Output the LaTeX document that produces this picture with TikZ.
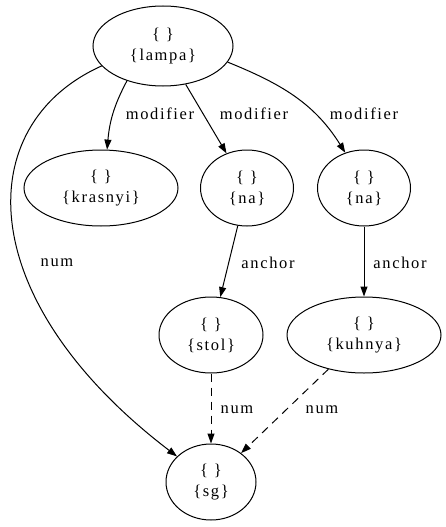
\documentclass[tikz,border=0pt]{standalone}
\usepackage{fontspec}
\setmainfont{Liberation Serif}[LetterSpace=10]
\usetikzlibrary{shapes.geometric,arrows.meta}
\begin{document}
\begin{tikzpicture}[x=1pt,y=-1pt,
  tok/.style={ellipse,draw,line width=1pt,inner sep=0pt,align=center,
    font=\fontsize{16.5}{21}\selectfont},
  lbl/.style={font=\fontsize{16.5}{19}\selectfont,inner sep=0pt},
  edge/.style={line width=1pt,-{Triangle[length=10pt,width=7pt]}},
  dedge/.style={edge,dash pattern=on 8pt off 6pt}]
\useasboundingbox (0,0) rectangle (445,527);
\node[tok,minimum width=140pt,minimum height=80pt] (lampa) at (163,46) {\{ \}\\\{lampa\}};
\node[tok,minimum width=154pt,minimum height=76pt] (krasnyi) at (101,188) {\{ \}\\\{krasnyi\}};
\node[tok,minimum width=93pt,minimum height=76pt] (na1) at (247,188) {\{ \}\\\{na\}};
\node[tok,minimum width=93pt,minimum height=76pt] (na2) at (364,188) {\{ \}\\\{na\}};
\node[tok,minimum width=104pt,minimum height=76pt] (stol) at (211,335) {\{ \}\\\{stol\}};
\node[tok,minimum width=154pt,minimum height=76pt] (kuhnya) at (364,335) {\{ \}\\\{kuhnya\}};
\node[tok,minimum width=90pt,minimum height=76pt] (sg) at (211,482) {\{ \}\\\{sg\}};

\draw[edge] (lampa.224) to[out=-118,in=85] (krasnyi.81);
\draw[edge] (lampa) -- (na1);
\draw[edge] (lampa.-14) to[out=-22,in=122] (na2.118);
\draw[edge] (lampa.198) .. controls (-30,125) and (-28,300) .. (sg.143);
\draw[edge] (na1) -- (stol);
\draw[edge] (na2) -- (kuhnya);
\draw[dedge] (stol) -- (sg);
\draw[dedge] (kuhnya) -- (sg);

\node[lbl] (l1) at (160,114) {modifier};
\node[lbl] (l2) at (254,114) {modifier};
\node[lbl] (l3) at (364,114) {modifier};
\node[lbl] (l4) at (57,263) {num};
\node[lbl] (l5) at (268,263) {anchor};
\node[lbl] (l6) at (400,263) {anchor};
\node[lbl] (l7) at (237,410) {num};
\node[lbl] (l8) at (322,410) {num};
\end{tikzpicture}
\end{document}
